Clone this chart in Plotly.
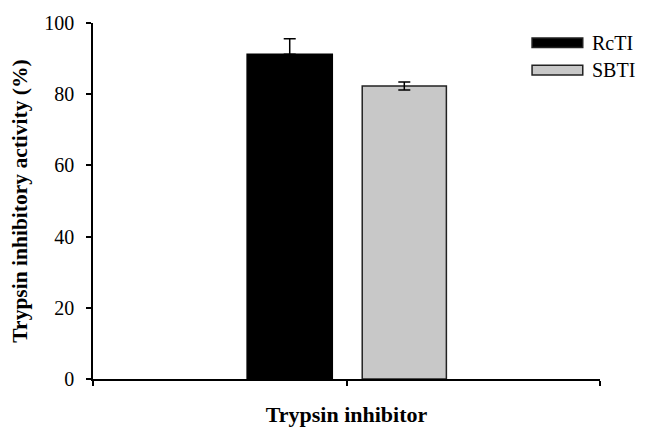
import plotly.graph_objects as go

categories = ["Trypsin inhibitor"]
series_names = ["RcTI", "SBTI"]
rcti_values = [91.2]
rcti_errors = [4.4]
sbti_values = [82.3]
sbti_errors = [1.1]
y_ticks = [0, 20, 40, 60, 80, 100]

FONT = "Liberation Serif, Times New Roman, serif"
x_idx = [0]

fig = go.Figure()
fig.add_trace(go.Bar(
    x=x_idx, y=rcti_values, name=series_names[0],
    width=0.168, offset=-0.196,
    marker=dict(color="#000000", line=dict(color="#000000", width=1.5)),
    error_y=dict(type="data", array=rcti_errors, symmetric=False, arrayminus=[0],
                 color="#000000", thickness=1.5, width=6),
    showlegend=False,
))
fig.add_trace(go.Bar(
    x=x_idx, y=sbti_values, name=series_names[1],
    width=0.166, offset=0.031,
    marker=dict(color="#c8c8c8", line=dict(color="#222222", width=1.5)),
    error_y=dict(type="data", array=sbti_errors, color="#000000", thickness=1.5, width=6),
    showlegend=False,
))

# Legend drawn as wide swatches + text (paper coords of the plot area)
legend_colors = ["#000000", "#c8c8c8"]
swatch_top = [0.958, 0.881]
for nm, col, yt in zip(series_names, legend_colors, swatch_top):
    fig.add_shape(type="rect", xref="paper", yref="paper",
                  x0=0.866, x1=0.966, y0=yt - 0.027, y1=yt,
                  fillcolor=col, line=dict(color="#222222", width=1.5))
    fig.add_annotation(xref="paper", yref="paper", x=0.980, y=yt - 0.0135,
                       text=nm, showarrow=False, xanchor="left", yanchor="middle",
                       font=dict(family=FONT, size=20, color="#000000"))

fig.update_layout(
    width=647, height=433,
    margin=dict(l=93, r=47, t=19, b=53),
    paper_bgcolor="white", plot_bgcolor="white",
    barmode="overlay",
    font=dict(family=FONT, color="#000000"),
    xaxis=dict(
        range=[-0.5, 0.5], tickvals=[-0.5, 0, 0.5], showticklabels=False,
        ticks="outside", ticklen=5, tickcolor="#000000", tickwidth=1.5,
        showline=True, linecolor="#000000", linewidth=1.5,
        showgrid=False, zeroline=False,
        title=dict(text="<b>" + categories[0] + "</b>", standoff=22,
                   font=dict(family=FONT, size=22)),
    ),
    yaxis=dict(
        range=[0, 100], tickvals=y_ticks,
        ticks="outside", ticklen=5, tickcolor="#000000", tickwidth=1.5,
        ticklabelstandoff=8,
        tickfont=dict(family=FONT, size=20),
        showline=True, linecolor="#000000", linewidth=1.5,
        showgrid=False, zeroline=False,
        title=dict(text="<b>Trypsin inhibitory activity (%)</b>", standoff=11,
                   font=dict(family=FONT, size=21.5)),
    ),
)

fig.write_html("out.html")
